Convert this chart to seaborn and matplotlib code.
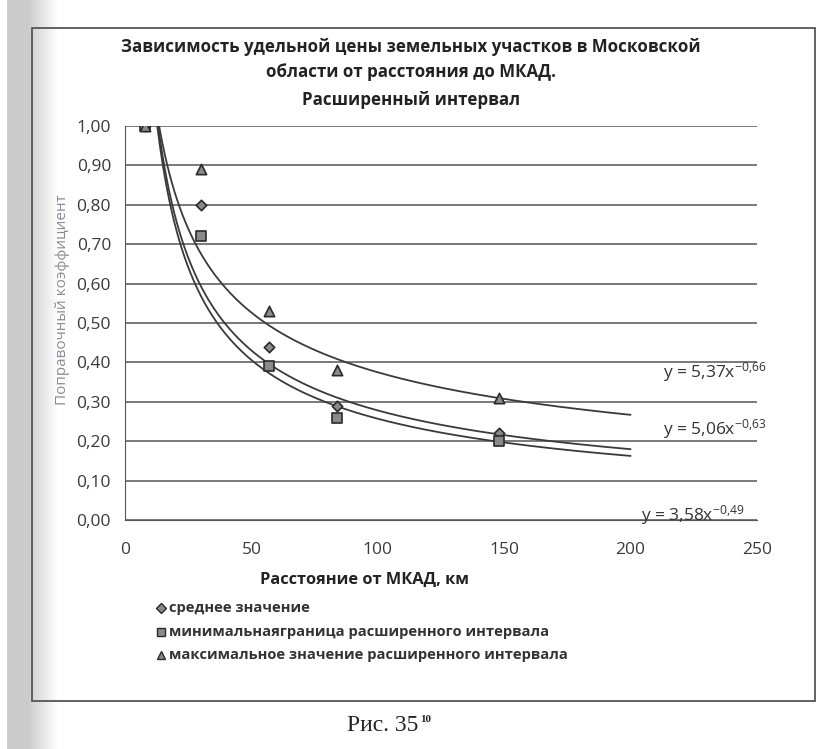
import numpy as np
import pandas as pd
import matplotlib
matplotlib.use("Agg")
import matplotlib.pyplot as plt
from matplotlib.ticker import FuncFormatter
from matplotlib.patches import Rectangle
import seaborn as sns

# данные
distance_km = [8, 30, 57, 84, 148]
mean_value = [1.00, 0.80, 0.44, 0.29, 0.22]
min_bound = [1.00, 0.72, 0.39, 0.26, 0.20]
max_value = [1.00, 0.89, 0.53, 0.38, 0.31]

series_names = ["среднее значение",
                "минимальнаяграница расширенного интервала",
                "максимальное значение расширенного интервала"]

# степенные линии тренда y = a * x^b (как подписано на графике)
trend_a = [5.37, 5.06, 3.58]
trend_b = [-0.66, -0.63, -0.49]
trend_labels = ["y = 5,37x$^{-0{,}66}$", "y = 5,06x$^{-0{,}63}$", "y = 3,58x$^{-0{,}49}$"]

x_ticks = [0, 50, 100, 150, 200, 250]
y_ticks = [0.0, 0.1, 0.2, 0.3, 0.4, 0.5, 0.6, 0.7, 0.8, 0.9, 1.0]

sns.set_style("white")
plt.rcParams["font.family"] = ["Open Sans", "DejaVu Sans"]
plt.rcParams["mathtext.fontset"] = "custom"
plt.rcParams["mathtext.rm"] = "Open Sans"
plt.rcParams["mathtext.default"] = "regular"

df = pd.DataFrame({
    "x": distance_km * 3,
    "y": mean_value + min_bound + max_value,
    "series": [series_names[0]] * 5 + [series_names[1]] * 5 + [series_names[2]] * 5,
})

fig = plt.figure(figsize=(8.18, 7.49), dpi=100)

# серый край скана слева
bg = fig.add_axes([0, 0, 1, 1], zorder=-10)
bg.axis("off")
px = np.arange(818)
shade = np.where(px < 7, 1.0, np.where(px < 28, 0.80, np.clip(0.80 + (px - 28) / 30 * 0.2, 0.8, 1.0)))
img = np.tile(shade, (10, 1))
bg.imshow(img, cmap="gray", vmin=0, vmax=1, extent=[0, 1, 0, 1], aspect="auto")
bg.set_xlim(0, 1)
bg.set_ylim(0, 1)

# рамка диаграммы
fig.patches.append(Rectangle((32 / 818, 1 - 701 / 749), (815 - 32) / 818, (701 - 28) / 749,
                             transform=fig.transFigure, fill=False, edgecolor="#555555", lw=1.3))

ax = fig.add_axes([125 / 818, 1 - 520 / 749, (757 - 125) / 818, (520 - 126) / 749])
ax.patch.set_alpha(0)

# линии тренда
xs = np.linspace(8, 200, 400)
for a, b in zip(trend_a, trend_b):
    sns.lineplot(x=xs, y=a * xs ** b, ax=ax, color="#3a3a3a", lw=1.3, legend=False)

markers = {series_names[0]: "D", series_names[1]: "s", series_names[2]: "^"}
sizes = {series_names[0]: 28, series_names[1]: 55, series_names[2]: 55}
for name in series_names:
    sub = df[df["series"] == name]
    sns.scatterplot(data=sub, x="x", y="y", ax=ax, marker=markers[name], s=sizes[name],
                    color="#8a8a8a", edgecolor="#2a2a2a", linewidth=1.2, zorder=5, legend=False)

ax.set_xlim(0, 250)
ax.set_ylim(0, 1.0)
ax.set_xticks(x_ticks)
ax.set_yticks(y_ticks)
ax.yaxis.set_major_formatter(FuncFormatter(lambda v, p: f"{v:.2f}".replace(".", ",")))
ax.xaxis.set_major_formatter(FuncFormatter(lambda v, p: f"{int(v)}"))
ax.grid(axis="y", color="#555555", lw=1.1)
ax.set_axisbelow(True)
for s in ["top", "right"]:
    ax.spines[s].set_visible(False)
ax.spines["left"].set_color("#555555")
ax.spines["bottom"].set_color("#555555")
ax.tick_params(axis="y", direction="out", length=6, width=1, color="#555555", labelsize=12.5,
               labelcolor="#3a3a3a", pad=4)
ax.tick_params(axis="x", direction="out", length=4, width=1, color="#555555", labelsize=12.5,
               labelcolor="#3a3a3a", pad=12)
ax.set_xlabel("")
ax.set_ylabel("")

# подписи уравнений
ax.text(213, 0.376, trend_labels[0], fontsize=12.5, color="#333333", va="center", clip_on=False)
ax.text(213, 0.232, trend_labels[1], fontsize=12.5, color="#333333", va="center", clip_on=False)
ax.text(204, 0.012, trend_labels[2], fontsize=12.5, color="#333333", va="center", clip_on=False)

# заголовок
title_lines = ["Зависимость удельной цены земельных участков в Московской",
               "области от расстояния до МКАД.",
               "Расширенный интервал"]
for line, yy in zip(title_lines, [0.937, 0.904, 0.867]):
    fig.text(0.502, yy, line, ha="center", va="center", fontsize=12.2,
             fontweight="bold", color="#222222")

fig.text(0.446, 0.226, "Расстояние от МКАД, км", ha="center", va="center",
         fontsize=11.8, fontweight="bold", color="#222222")
fig.text(0.076, 0.60, "Поправочный коэффициент", ha="center", va="center", rotation=90,
         fontsize=11, color="#8a8a96")

# легенда
leg_y = [608, 632, 655]
leg_size = [5, 6, 6]
for name, yy, ms in zip(series_names, leg_y, leg_size):
    fig.lines.append(plt.Line2D([161 / 818], [1 - yy / 749], marker=markers[name], markersize=ms,
                                color="#8a8a8a", markeredgecolor="#2a2a2a", mew=1.0,
                                transform=fig.transFigure))
    fig.text(169 / 818, 1 - yy / 749, name, ha="left", va="center", fontsize=10.6,
             fontweight="bold", color="#333333")

# подпись рисунка
fig.text(0.512, 0.032, "Рис. 35", ha="right", va="center", fontsize=17,
         family=["Liberation Serif", "DejaVu Serif"], color="#222222")
fig.text(0.514, 0.040, "10", ha="left", va="center", fontsize=8, fontweight="bold",
         family=["Liberation Serif", "DejaVu Serif"], color="#222222")

fig.savefig("out.png", dpi=100)
